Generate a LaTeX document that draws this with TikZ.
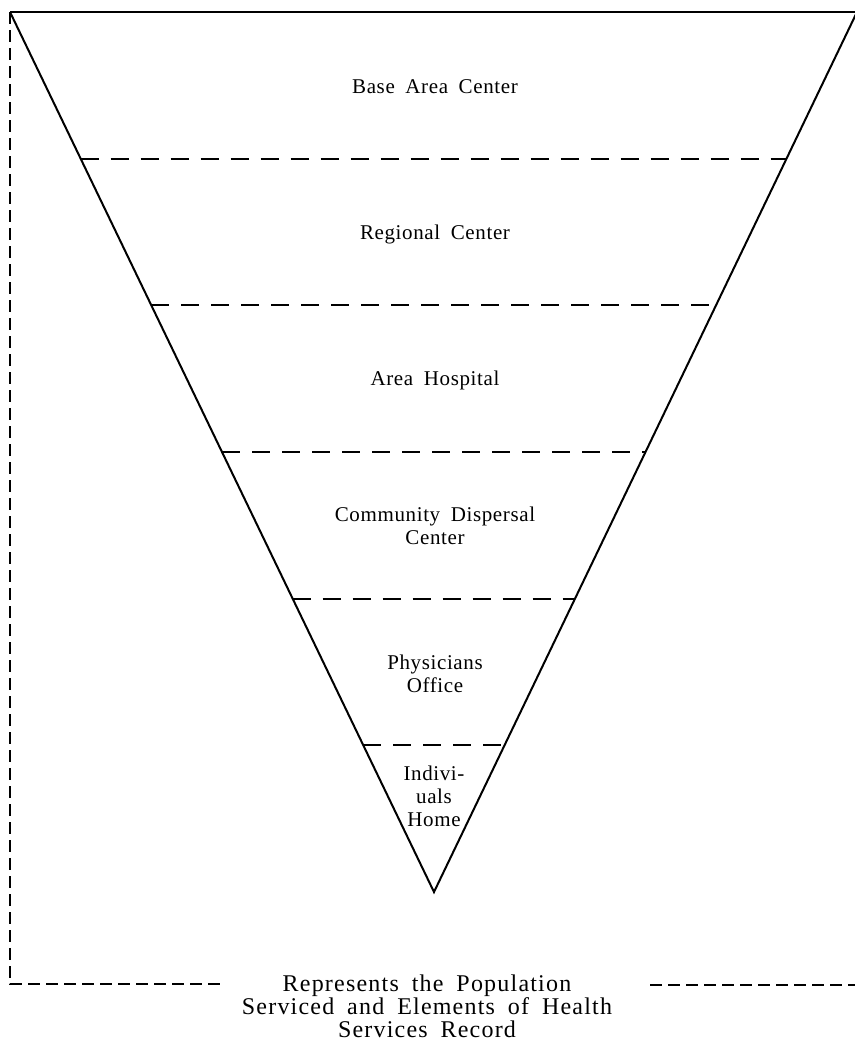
\documentclass[tikz,border=0pt]{standalone}
\usepackage{fontspec}
\setmainfont{Liberation Serif}
\newfontfamily\labelfont[LetterSpace=3,WordSpace=1.8]{Liberation Serif}
\newfontfamily\captionfont[LetterSpace=5,WordSpace=1.8]{Liberation Serif}
\usepackage{tikz}
\usetikzlibrary{calc}

\begin{document}
\begin{tikzpicture}[
    x=0.5pt, y=-0.5pt,
    every node/.style={font=\labelfont\fontsize{10.5}{11.5}\selectfont, align=center, inner sep=1pt},
    note/.style={font=\captionfont\fontsize{12}{11.5}\selectfont},
    edge/.style={line width=1pt},
    divider/.style={line width=0.9pt, dash pattern=on 9pt off 6pt},
    frame/.style={line width=0.9pt, dash pattern=on 6pt off 3pt}
]
    \useasboundingbox (0,0) rectangle (855,1040);

    % Triangle corners
    \coordinate (tl) at (10,12);
    \coordinate (tr) at (857,12);
    \coordinate (apex) at (434,892);

    % Triangle
    \draw[edge] (tl) -- (tr);
    \draw[edge] (tl) -- (apex) -- (tr);

    % Level dividers
    \foreach \k in {1,...,5}
        \draw[divider] ($(tl)!\k/6!(apex)$) -- ($(tr)!\k/6!(apex)$);

    % Level labels
    \node (base) at (435,87) {Base Area Center};
    \node (regional) at (435,234) {Regional Center};
    \node (hospital) at (435,380) {Area Hospital};
    \node (dispersal) at (435,526) {Community Dispersal\\Center};
    \node (physician) at (435,674) {Physicians\\Office};
    \node (home) at (434,796) {Indivi-\\uals\\Home};

    % Population caption
    \node[note] (caption) at (427,1006) {Represents the Population\\Serviced and Elements of Health\\Services Record};
    \coordinate (bl) at (10,984);
    \coordinate (br) at (855,985);

    % Population frame
    \draw[frame] (tl) -- (bl) -- (220,984);
    \draw[frame] (650,985) -- (br);
\end{tikzpicture}
\end{document}
